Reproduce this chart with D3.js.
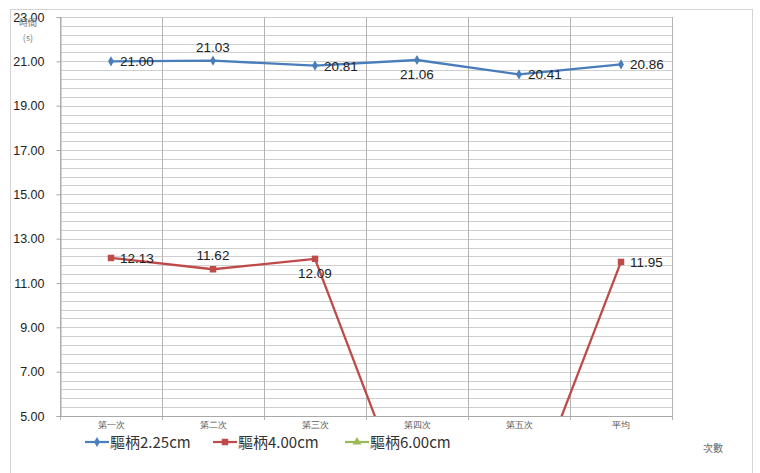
<!DOCTYPE html>
<html>
<head>
<meta charset="utf-8">
<script src="https://cdn.jsdelivr.net/npm/d3@7/dist/d3.min.js"></script>
<style>
  html, body { margin: 0; padding: 0; background: #fff; }
  svg { display: block; }
  .tick text { font-family: "Liberation Sans", "DejaVu Sans", sans-serif; }
</style>
</head>
<body>
<svg id="chart" width="760" height="473"></svg>
<script>
// Trial categories and timing values (seconds)
const categories = ["第一次", "第二次", "第三次", "第四次", "第五次", "平均"];
const series225 = [21.00, 21.03, 20.81, 21.06, 20.41, 20.86];
const series400 = [12.13, 11.62, 12.09, 0, 0, 11.95];
const series600 = [0, 0, 0, 0, 0, 0];
const seriesNames = ["驅柄2.25cm", "驅柄4.00cm", "驅柄6.00cm"];
const yTicks = [5, 7, 9, 11, 13, 15, 17, 19, 21, 23];
const yMinorStep = 0.4;

// placement of each data label relative to its point
const labelPos225 = ["right", "above", "right", "below", "right", "right"];
const labelPos400 = ["right", "above", "below", "none", "none", "right"];

const colors = ["#4a7ebb", "#be4b48", "#98b954"];
const font = "'Liberation Sans', 'Noto Sans CJK TC', sans-serif";
const cjk = "'Noto Sans CJK TC', 'Noto Sans CJK SC', sans-serif";

const svg = d3.select("#chart");
const plot = { left: 60, right: 672, top: 17, bottom: 416 };

const x = d3.scaleBand().domain(categories).range([plot.left, plot.right]).padding(0);
const cx = d => x(d) + x.bandwidth() / 2;
const y = d3.scaleLinear().domain([5, 23]).range([plot.bottom, plot.top]);

// outer chart frame
svg.append("rect")
  .attr("x", 10.5).attr("y", 9.5).attr("width", 742).attr("height", 480)
  .attr("fill", "#fff").attr("stroke", "#d4d4d4").attr("stroke-width", 1);

// clip region for the plot area
svg.append("defs").append("clipPath").attr("id", "plotClip")
  .append("rect")
  .attr("x", plot.left).attr("y", plot.top - 6)
  .attr("width", plot.right - plot.left).attr("height", plot.bottom - plot.top + 6);

// horizontal minor + major gridlines
const minorVals = d3.range(5, 23.0001, yMinorStep);
svg.append("g").selectAll("line").data(minorVals).join("line")
  .attr("x1", plot.left).attr("x2", plot.right)
  .attr("y1", d => Math.round(y(d)) + 0.5).attr("y2", d => Math.round(y(d)) + 0.5)
  .attr("stroke", "#cfcfcf").attr("stroke-width", 1);

// vertical category dividers, extending as tick marks below the axis
const dividers = categories.map(c => x(c)).concat([plot.right]);
svg.append("g").selectAll("line").data(dividers).join("line")
  .attr("x1", d => Math.round(d) + 0.5).attr("x2", d => Math.round(d) + 0.5)
  .attr("y1", plot.top).attr("y2", plot.bottom + 4)
  .attr("stroke", "#b4b4b4").attr("stroke-width", 1);

// y axis
const yAxis = d3.axisLeft(y).tickValues(yTicks).tickFormat(d3.format(".2f")).tickSize(4).tickPadding(12);
const gy = svg.append("g").attr("transform", `translate(${plot.left + 0.5},0)`).call(yAxis);
gy.select(".domain").attr("stroke", "#a8a8a8");
gy.selectAll(".tick line").attr("stroke", "#a8a8a8");
gy.selectAll(".tick text").attr("font-size", 12.5).attr("fill", "#222").attr("font-family", font);

// bottom axis line
svg.append("line")
  .attr("x1", plot.left).attr("x2", plot.right)
  .attr("y1", plot.bottom + 0.5).attr("y2", plot.bottom + 0.5)
  .attr("stroke", "#a8a8a8");

// x category labels
const xAxis = d3.axisBottom(x).tickSize(0).tickPadding(6);
const gx = svg.append("g").attr("transform", `translate(0,${plot.bottom})`).call(xAxis);
gx.select(".domain").remove();
gx.selectAll(".tick text").attr("font-size", 9).attr("fill", "#555").attr("font-family", cjk);

// axis titles
svg.append("text").attr("x", 28).attr("y", 26).attr("text-anchor", "middle")
  .attr("font-size", 9).attr("fill", "#777").attr("font-family", cjk).text("時間");
svg.append("text").attr("x", 28).attr("y", 41).attr("text-anchor", "middle")
  .attr("font-size", 9).attr("fill", "#777").attr("font-family", cjk).text("(s)");
svg.append("text").attr("x", 713).attr("y", 452).attr("text-anchor", "middle")
  .attr("font-size", 10).attr("fill", "#666").attr("font-family", cjk).text("次數");

// series lines
const allSeries = [series225, series400, series600];
const line = d3.line().x((d, i) => cx(categories[i])).y(d => y(d));
const gLines = svg.append("g").attr("clip-path", "url(#plotClip)");

const markerPath = [
  d3.symbol().type(d3.symbolDiamond).size(30),
  d3.symbol().type(d3.symbolSquare).size(42),
  d3.symbol().type(d3.symbolTriangle).size(34)
];

allSeries.forEach((vals, k) => {
  gLines.append("path").datum(vals)
    .attr("d", line).attr("fill", "none")
    .attr("stroke", colors[k]).attr("stroke-width", 2.3).attr("stroke-linejoin", "round");
  gLines.selectAll(null).data(vals).join("path")
    .attr("transform", (d, i) => `translate(${cx(categories[i])},${y(d)})`)
    .attr("d", markerPath[k]).attr("fill", colors[k]);
});

// data labels
function drawLabels(vals, pos) {
  vals.forEach((v, i) => {
    const p = pos[i];
    if (p === "none") return;
    const px = cx(categories[i]), py = y(v);
    let tx = px, ty = py, anchor = "middle";
    if (p === "right") { tx = px + 9; ty = py + 5; anchor = "start"; }
    if (p === "above") { ty = py - 9; }
    if (p === "below") { ty = py + 19; }
    svg.append("text").attr("x", tx).attr("y", ty).attr("text-anchor", anchor)
      .attr("font-size", 13.5).attr("fill", "#222").attr("font-family", font)
      .text(d3.format(".2f")(v));
  });
}
drawLabels(series225, labelPos225);
drawLabels(series400, labelPos400);

// legend
const legendX = [85, 213, 345];
const legendY = 442;
seriesNames.forEach((name, k) => {
  const g = svg.append("g").attr("transform", `translate(${legendX[k]},${legendY})`);
  g.append("line").attr("x1", 0).attr("x2", 24).attr("y1", 0).attr("y2", 0)
    .attr("stroke", colors[k]).attr("stroke-width", 2.2);
  g.append("path").attr("transform", "translate(12,0)").attr("d", markerPath[k]).attr("fill", colors[k]);
  g.append("text").attr("x", 25).attr("y", 6).attr("font-size", 15).attr("fill", "#333")
    .attr("font-family", cjk).text(name);
});
</script>
</body>
</html>
